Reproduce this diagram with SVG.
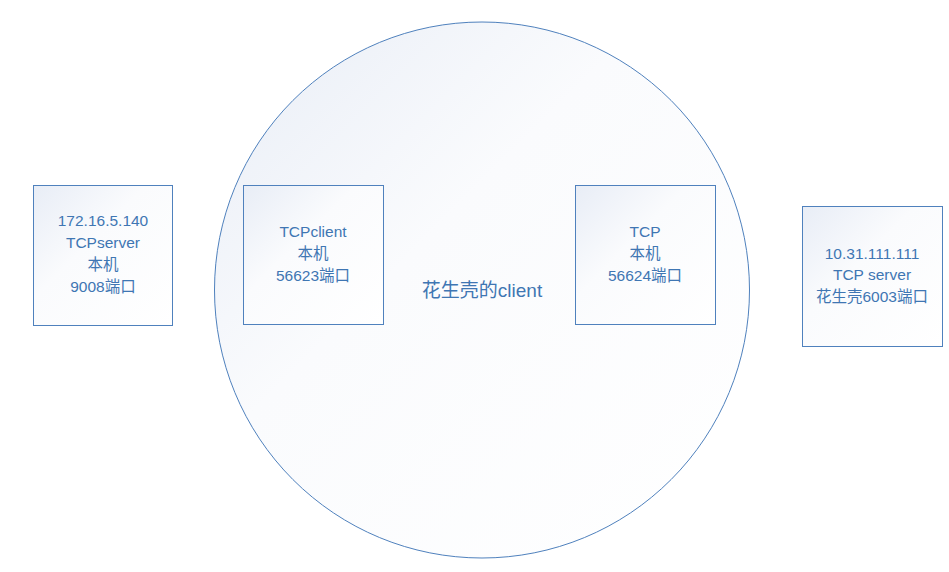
<svg xmlns="http://www.w3.org/2000/svg" width="949" height="572" viewBox="0 0 949 572">
<defs>
<linearGradient id="g" x1="0" y1="0" x2="1" y2="1">
<stop offset="0" stop-color="#e8edf6"/>
<stop offset="0.4" stop-color="#fafbfd"/>
<stop offset="1" stop-color="#ffffff"/>
</linearGradient>
<style>
.n{fill:url(#g);stroke:#4f81bd;stroke-width:1}
.t{font-family:"Liberation Sans","Noto Sans CJK SC",sans-serif;font-size:15.5px;fill:#3f76b3;text-anchor:middle}
.c{font-size:19px}
</style>
</defs>
<rect width="949" height="572" fill="#ffffff"/>
<g id="circle">
<ellipse class="n" cx="482" cy="290" rx="267.5" ry="268"/>
<text class="t c" x="482" y="297">花生壳的client</text>
</g>
<g id="local-server">
<rect class="n" x="33.5" y="185.5" width="139" height="140"/>
<text class="t" x="103" y="226">172.16.5.140</text>
<text class="t" x="103" y="248">TCPserver</text>
<text class="t" x="103" y="270">本机</text>
<text class="t" x="103" y="292">9008端口</text>
</g>
<g id="tcp-client">
<rect class="n" x="243.5" y="185.5" width="140" height="139"/>
<text class="t" x="313" y="237">TCPclient</text>
<text class="t" x="313" y="259">本机</text>
<text class="t" x="313" y="281">56623端口</text>
</g>
<g id="tcp-local">
<rect class="n" x="575.5" y="185.5" width="140" height="139"/>
<text class="t" x="645" y="237">TCP</text>
<text class="t" x="645" y="259">本机</text>
<text class="t" x="645" y="281">56624端口</text>
</g>
<g id="remote-server">
<rect class="n" x="802.5" y="206.5" width="140" height="140"/>
<text class="t" x="872" y="259">10.31.111.111</text>
<text class="t" x="872" y="280">TCP server</text>
<text class="t" x="872" y="302">花生壳6003端口</text>
</g>
<g id="connectors"/>
</svg>
